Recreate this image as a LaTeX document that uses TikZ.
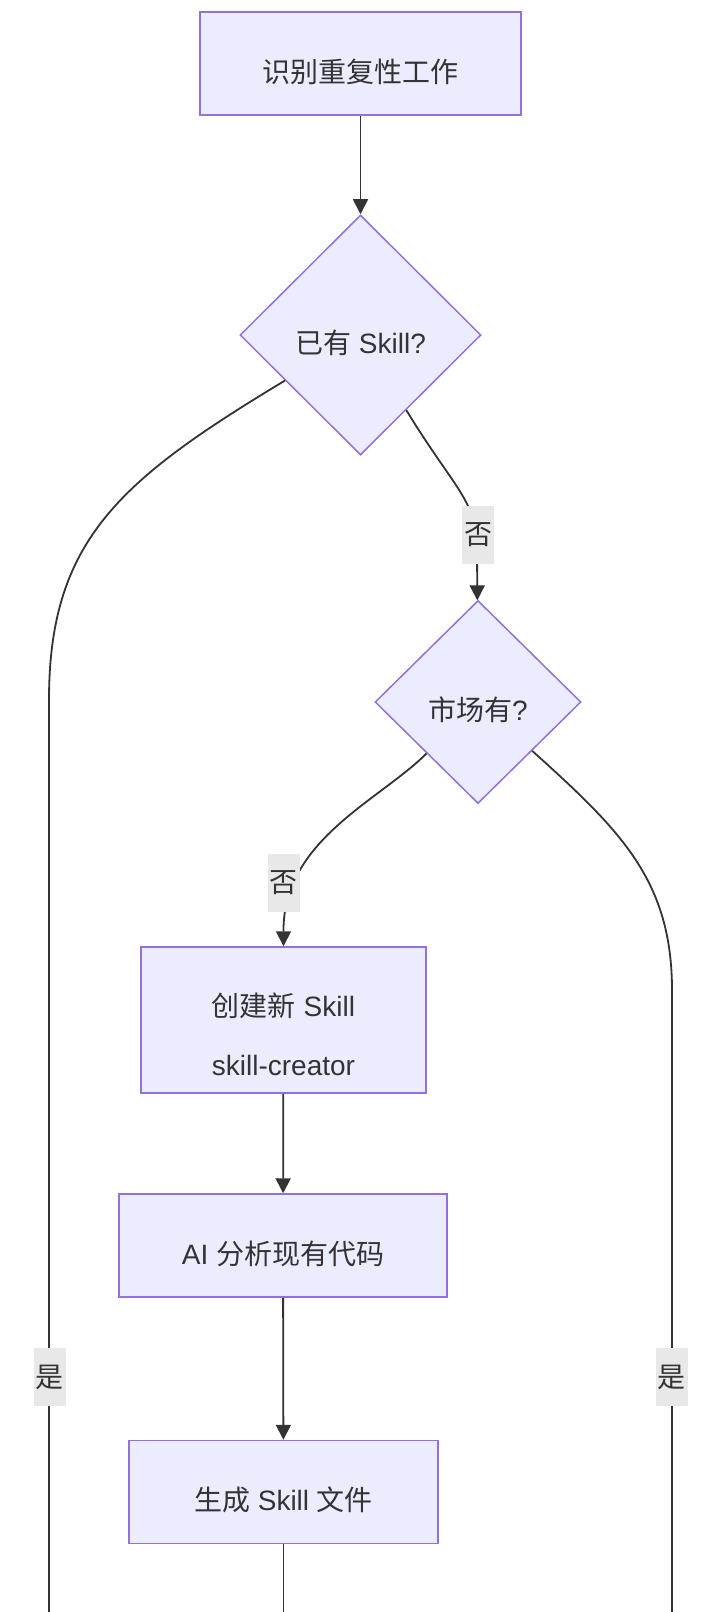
\documentclass[tikz,border=0pt]{standalone}
\usepackage{fontspec}
\setmainfont{Liberation Sans}
\newfontfamily\cjk{Noto Sans CJK SC}
\usetikzlibrary{shapes.geometric,arrows.meta}

\definecolor{boxfill}{HTML}{ECECFF}
\definecolor{boxline}{HTML}{9370DB}
\definecolor{edgeline}{HTML}{333333}
\definecolor{labelbg}{HTML}{E8E8E8}

\tikzset{
  stepbox/.style={draw=boxline, fill=boxfill, line width=0.75pt, text=edgeline,
    minimum height=51.5pt, align=center, font=\fontsize{14}{17}\selectfont,
    execute at begin node=\rule{0pt}{20pt}},
  choice/.style={diamond, draw=boxline, fill=boxfill, line width=0.75pt, text=edgeline,
    inner sep=0pt, font=\fontsize{14}{17}\selectfont,
    execute at begin node=\rule{0pt}{20pt}},
  flow/.style={draw=edgeline, line width=0.9pt, -{Triangle[length=7.5pt,width=7.5pt]}},
  plainflow/.style={draw=edgeline, line width=0.9pt},
  answer/.style={fill=labelbg, text=edgeline, inner xsep=1pt, inner ysep=0pt,
    minimum height=29pt, font=\fontsize{14}{17}\selectfont},
}

\begin{document}
\begin{tikzpicture}[x=0.5pt,y=-0.5pt]
  \fill[white] (0,0) rectangle (722,1612);
  \useasboundingbox (0,0) rectangle (722,1612);

  % nodes
  \node[stepbox, minimum width=160.5pt] (start) at (360.5,63.5) {\cjk 识别重复性工作};
  \node[choice, minimum width=120.5pt, minimum height=120pt] (hasskill) at (360.5,335)
    {{\cjk 已有} Skill?};
  \node[choice, minimum width=103pt, minimum height=101.5pt] (market) at (478,702)
    {{\cjk 市场有}?};
  \node[stepbox, minimum width=142.5pt, minimum height=73pt] (create) at (283.5,1020)
    {\rule{0pt}{26pt}{\cjk 创建新} Skill\\[12.5pt]skill-creator};
  \node[stepbox, minimum width=164pt] (analyze) at (283,1245.5) {AI {\cjk 分析现有代码}};
  \node[stepbox, minimum width=154.5pt] (generate) at (283.5,1492) {{\cjk 生成} Skill {\cjk 文件}};

  % free ends below the picture
  \coordinate (yesleft) at (49,1612);
  \coordinate (yesright) at (672,1612);
  \coordinate (next) at (283.5,1612);

  % connectors
  \draw[flow] (start) -- (hasskill);
  \draw[flow] (hasskill) .. controls (455,490) and (477,500) .. (477,550)
    node[answer] at (478,535) {\cjk 否} -- (market);
  \draw[plainflow] (hasskill) .. controls (120,480) and (49,540) .. (49,700)
    node[answer] at (49.5,1377) {\cjk 是} -- (yesleft);
  \draw[flow] (market) .. controls (380,800) and (283.5,840) .. (283.5,930)
    node[answer] at (283.5,883) {\cjk 否} -- (create);
  \draw[plainflow] (market) .. controls (620,830) and (672,880) .. (672,990)
    node[answer] at (671.5,1377) {\cjk 是} -- (yesright);
  \draw[flow] (create) -- (analyze);
  \draw[flow] (analyze) -- (generate);
  \draw[plainflow] (generate) -- (next);
\end{tikzpicture}
\end{document}
